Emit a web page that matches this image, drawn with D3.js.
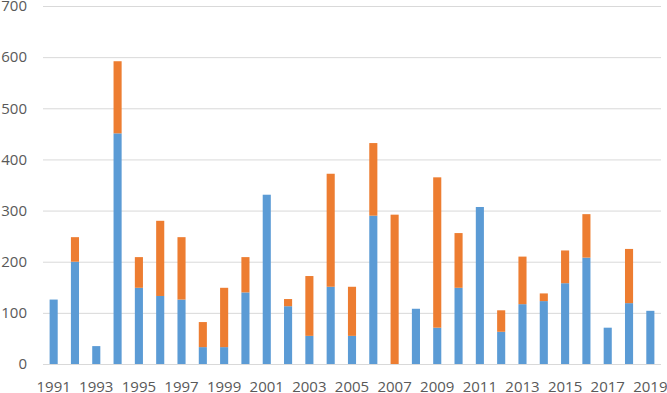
<!DOCTYPE html>
<html lang="en">
<head>
    <meta charset="UTF-8">
    <title>Stacked columns 1991-2019</title>
    <script src="https://d3js.org/d3.v7.min.js"></script>
    <style>
        body { margin: 0; background: #fff; }
        .tick-label { font-family: "Open Sans", sans-serif; font-size: 15px; fill: #595959; }
        .grid line { stroke: #d9d9d9; stroke-width: 1; }
        .grid path { display: none; }
    </style>
</head>
<body>
    <div id="chart"></div>

    <script>
        // Data
        const years = d3.range(1991, 2020).map(String);
        const blueValues = [126, 200, 35, 451, 149, 133, 126, 33, 33, 140,
                            331, 113, 55, 151, 55, 290, 0, 108, 71, 149,
                            307, 63, 117, 123, 158, 208, 71, 119, 104];
        const orangeValues = [0, 48, 0, 141, 60, 147, 122, 49, 116, 69,
                              0, 14, 117, 221, 96, 142, 292, 0, 294, 107,
                              0, 42, 93, 15, 64, 85, 0, 106, 0];
        const yTicks = [0, 100, 200, 300, 400, 500, 600, 700];
        const xLabels = years.filter((d, i) => i % 2 === 0);

        const width = 667, height = 393;
        const margin = { left: 43, right: 661, top: 6, bottom: 364 };

        const svg = d3.select("#chart")
            .append("svg")
            .attr("width", width)
            .attr("height", height);

        const x = d3.scaleBand()
            .domain(years)
            .range([margin.left, margin.right])
            .paddingInner(0.62)
            .paddingOuter(0.31);

        const y = d3.scaleLinear()
            .domain([0, 700])
            .range([margin.bottom, margin.top]);

        // gridlines
        svg.append("g")
            .attr("class", "grid")
            .attr("transform", `translate(${margin.left},0)`)
            .call(d3.axisLeft(y).tickValues(yTicks).tickSize(-(margin.right - margin.left)).tickFormat(""));

        // y labels
        svg.append("g")
            .selectAll("text")
            .data(yTicks)
            .enter()
            .append("text")
            .attr("class", "tick-label")
            .attr("x", 27)
            .attr("y", d => y(d))
            .attr("dy", "0.35em")
            .style("text-anchor", "end")
            .text(d => d);

        // stacked bars
        const rows = years.map((yr, i) => ({ year: yr, blue: blueValues[i], orange: orangeValues[i] }));
        const stack = d3.stack().keys(["blue", "orange"])(rows);
        const colors = { blue: "#5b9bd5", orange: "#ed7d31" };

        svg.selectAll("g.series")
            .data(stack)
            .enter()
            .append("g")
            .attr("class", "series")
            .attr("fill", d => colors[d.key])
            .selectAll("rect")
            .data(d => d)
            .enter()
            .append("rect")
            .attr("x", d => x(d.data.year))
            .attr("width", x.bandwidth())
            .attr("y", d => y(d[1]))
            .attr("height", d => y(d[0]) - y(d[1]));

        // x labels
        svg.append("g")
            .selectAll("text")
            .data(xLabels)
            .enter()
            .append("text")
            .attr("class", "tick-label")
            .attr("x", d => x(d) + x.bandwidth() / 2)
            .attr("y", 392)
            .style("text-anchor", "middle")
            .text(d => d);
    </script>
</body>
</html>
